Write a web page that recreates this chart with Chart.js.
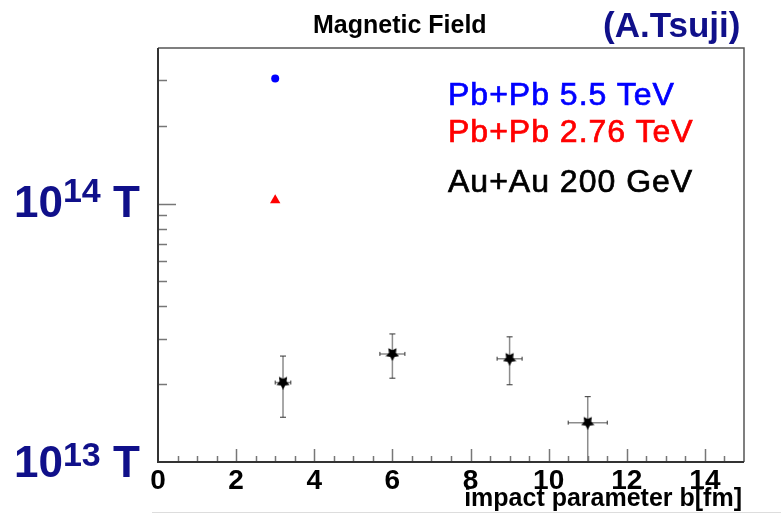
<!DOCTYPE html>
<html>
<head>
<meta charset="utf-8">
<script src="https://cdn.jsdelivr.net/npm/chart.js@4.4.1/dist/chart.umd.min.js"></script>
<style>
    body { margin: 0; background: #fff; }
    #wrap { position: relative; width: 781px; height: 515px; overflow: hidden; }
    #wrap canvas { position: absolute; left: 0; top: 0; }
    .lbl { position: absolute; white-space: nowrap; line-height: 1; }
    .navy { color: #10108a; font-family: "Liberation Sans", Arial, sans-serif; font-weight: bold; }
    .big { font-size: 44px; }
    .big sup { font-size: 34px; vertical-align: baseline; position: relative; }
    .series { font-family: "Liberation Sans", Arial, sans-serif; font-size: 32px; letter-spacing: 1px; -webkit-text-stroke: 0.7px currentColor; }
    .bold { font-family: "Liberation Sans", Arial, sans-serif; font-weight: bold; color: #000; }
</style>
</head>
<body>
<div id="wrap">
    <canvas id="fieldChart" width="781" height="515"></canvas>
    <div class="lbl bold" style="left:313px; top:12px; font-size:25px;">Magnetic Field</div>
    <div class="lbl navy" style="left:603px; top:7px; font-size:35px;">(A.Tsuji)</div>
    <div class="lbl series" style="left:448px; top:78px; color:#0000ff;">Pb+Pb 5.5 TeV</div>
    <div class="lbl series" style="left:448px; top:115px; color:#ff0000;">Pb+Pb 2.76 TeV</div>
    <div class="lbl series" style="left:448px; top:165px; color:#000;">Au+Au 200 GeV</div>
    <div class="lbl navy big" style="left:14px; top:180px;">10<sup style="top:-15px;">14</sup> T</div>
    <div class="lbl navy big" style="left:14px; top:440px;">10<sup style="top:-11px;">13</sup> T</div>
    <div class="lbl bold" style="right:39px; top:485px; font-size:25px;">impact parameter b[fm]</div>
    <div style="position:absolute; left:152px; top:512px; width:629px; height:1px; background:#ddd;"></div>
</div>
<script>
// Pb+Pb points
const pb55B = [3.0];
const pb55Field = [3.05e14];
const pb276B = [3.0];
const pb276Field = [1.03e14];

// Au+Au 200 GeV with errors
const auB = [3.2, 6.0, 9.0, 11.0];
const auBErr = [0.2, 0.32, 0.32, 0.5];
const auField = [2.03e13, 2.62e13, 2.51e13, 1.42e13];
const auFieldHi = [2.57e13, 3.13e13, 3.05e13, 1.79e13];
const auFieldLo = [1.49e13, 2.11e13, 1.99e13, 1.0e13];

const xTickValues = [0, 2, 4, 6, 8, 10, 12, 14];

function toPoints(xs, ys) {
    return xs.map((x, i) => ({ x: x, y: ys[i] }));
}

function makeStar(size, color) {
    const c = document.createElement('canvas');
    c.width = size; c.height = size;
    const g = c.getContext('2d');
    g.fillStyle = color;
    g.beginPath();
    for (let i = 0; i < 10; i++) {
        const a = Math.PI / 2 + i * Math.PI / 5;
        const r = i % 2 ? size * 0.26 : size * 0.5;
        const px = size / 2 + Math.cos(a) * r;
        const py = size / 2 + Math.sin(a) * r;
        if (i === 0) g.moveTo(px, py); else g.lineTo(px, py);
    }
    g.closePath();
    g.fill();
    return c;
}

const rootFrame = {
    id: 'rootFrame',
    beforeDatasetsDraw(chart) {
        const ctx = chart.ctx, x = chart.scales.x, y = chart.scales.y, area = chart.chartArea;
        ctx.save();
        auB.forEach((b, i) => {
            const px = x.getPixelForValue(b);
            const py = y.getPixelForValue(auField[i]);
            const top = y.getPixelForValue(auFieldHi[i]);
            const bot = Math.min(y.getPixelForValue(auFieldLo[i]), area.bottom);
            const left = x.getPixelForValue(b - auBErr[i]);
            const right = x.getPixelForValue(b + auBErr[i]);
            ctx.strokeStyle = '#8c8c8c';
            ctx.lineWidth = 1.5;
            ctx.beginPath();
            ctx.moveTo(px, top); ctx.lineTo(px, bot);
            ctx.moveTo(left, py); ctx.lineTo(right, py);
            ctx.stroke();
            ctx.strokeStyle = '#333';
            ctx.lineWidth = 1;
            ctx.beginPath();
            ctx.moveTo(px - 3, top); ctx.lineTo(px + 3, top);
            if (bot < area.bottom) { ctx.moveTo(px - 3, bot); ctx.lineTo(px + 3, bot); }
            ctx.moveTo(left, py - 2); ctx.lineTo(left, py + 2);
            ctx.moveTo(right, py - 2); ctx.lineTo(right, py + 2);
            ctx.stroke();
        });
        ctx.restore();
    },
    afterDraw(chart) {
        const ctx = chart.ctx, x = chart.scales.x, y = chart.scales.y, a = chart.chartArea;
        ctx.save();
        ctx.strokeStyle = '#777';
        ctx.lineWidth = 1.5;
        ctx.beginPath();
        for (let k = 1; k < 30; k++) {
            const px = Math.round(x.getPixelForValue(k / 2)) + 0.5;
            const len = k % 4 === 0 ? 13 : 6;
            ctx.moveTo(px, a.bottom); ctx.lineTo(px, a.bottom - len);
        }
        const yTicks = [2e13, 3e13, 4e13, 5e13, 6e13, 7e13, 8e13, 9e13, 1e14, 2e14, 3e14];
        yTicks.forEach(v => {
            const py = Math.round(y.getPixelForValue(v)) + 0.5;
            const len = v === 1e14 ? 18 : 9;
            ctx.moveTo(a.left, py); ctx.lineTo(a.left + len, py);
        });
        ctx.stroke();
        ctx.strokeStyle = '#555';
        ctx.lineWidth = 1.5;
        ctx.beginPath();
        ctx.moveTo(a.left, a.top); ctx.lineTo(a.right, a.top); ctx.lineTo(a.right, a.bottom);
        ctx.stroke();
        ctx.strokeStyle = '#333';
        ctx.lineWidth = 2;
        ctx.beginPath();
        ctx.moveTo(a.left, a.top); ctx.lineTo(a.left, a.bottom); ctx.lineTo(a.right, a.bottom);
        ctx.stroke();
        ctx.restore();
    }
};

new Chart(document.getElementById('fieldChart').getContext('2d'), {
    type: 'scatter',
    data: {
        datasets: [
            { label: 'Pb+Pb 5.5 TeV', data: toPoints(pb55B, pb55Field), pointStyle: 'circle', pointRadius: 4, backgroundColor: '#0000ff', borderColor: '#0000ff', borderWidth: 0 },
            { label: 'Pb+Pb 2.76 TeV', data: toPoints(pb276B, pb276Field), pointStyle: 'triangle', pointRadius: 6, backgroundColor: '#ff0000', borderColor: '#ff0000', borderWidth: 0 },
            { label: 'Au+Au 200 GeV', data: toPoints(auB, auField), pointStyle: makeStar(14, '#000'), pointRadius: 7 }
        ]
    },
    options: {
        responsive: false,
        animation: false,
        devicePixelRatio: 1,
        layout: { padding: { top: 48, right: 37, left: 0, bottom: 0 } },
        plugins: { legend: { display: false }, tooltip: { enabled: false } },
        scales: {
            x: {
                type: 'linear', min: 0, max: 15,
                afterFit: s => { s.height = 53; },
                afterBuildTicks: s => { s.ticks = xTickValues.map(v => ({ value: v })); },
                grid: { display: false, drawTicks: false },
                border: { display: false },
                ticks: { color: '#000', padding: 2, maxRotation: 0, autoSkip: false, font: { family: 'Liberation Sans', size: 28, weight: 'bold' } }
            },
            y: {
                type: 'logarithmic', min: 1e13, max: 4e14,
                afterFit: s => { s.width = 158; },
                grid: { display: false, drawTicks: false },
                border: { display: false },
                ticks: { display: false }
            }
        }
    },
    plugins: [rootFrame]
});
</script>
</body>
</html>
